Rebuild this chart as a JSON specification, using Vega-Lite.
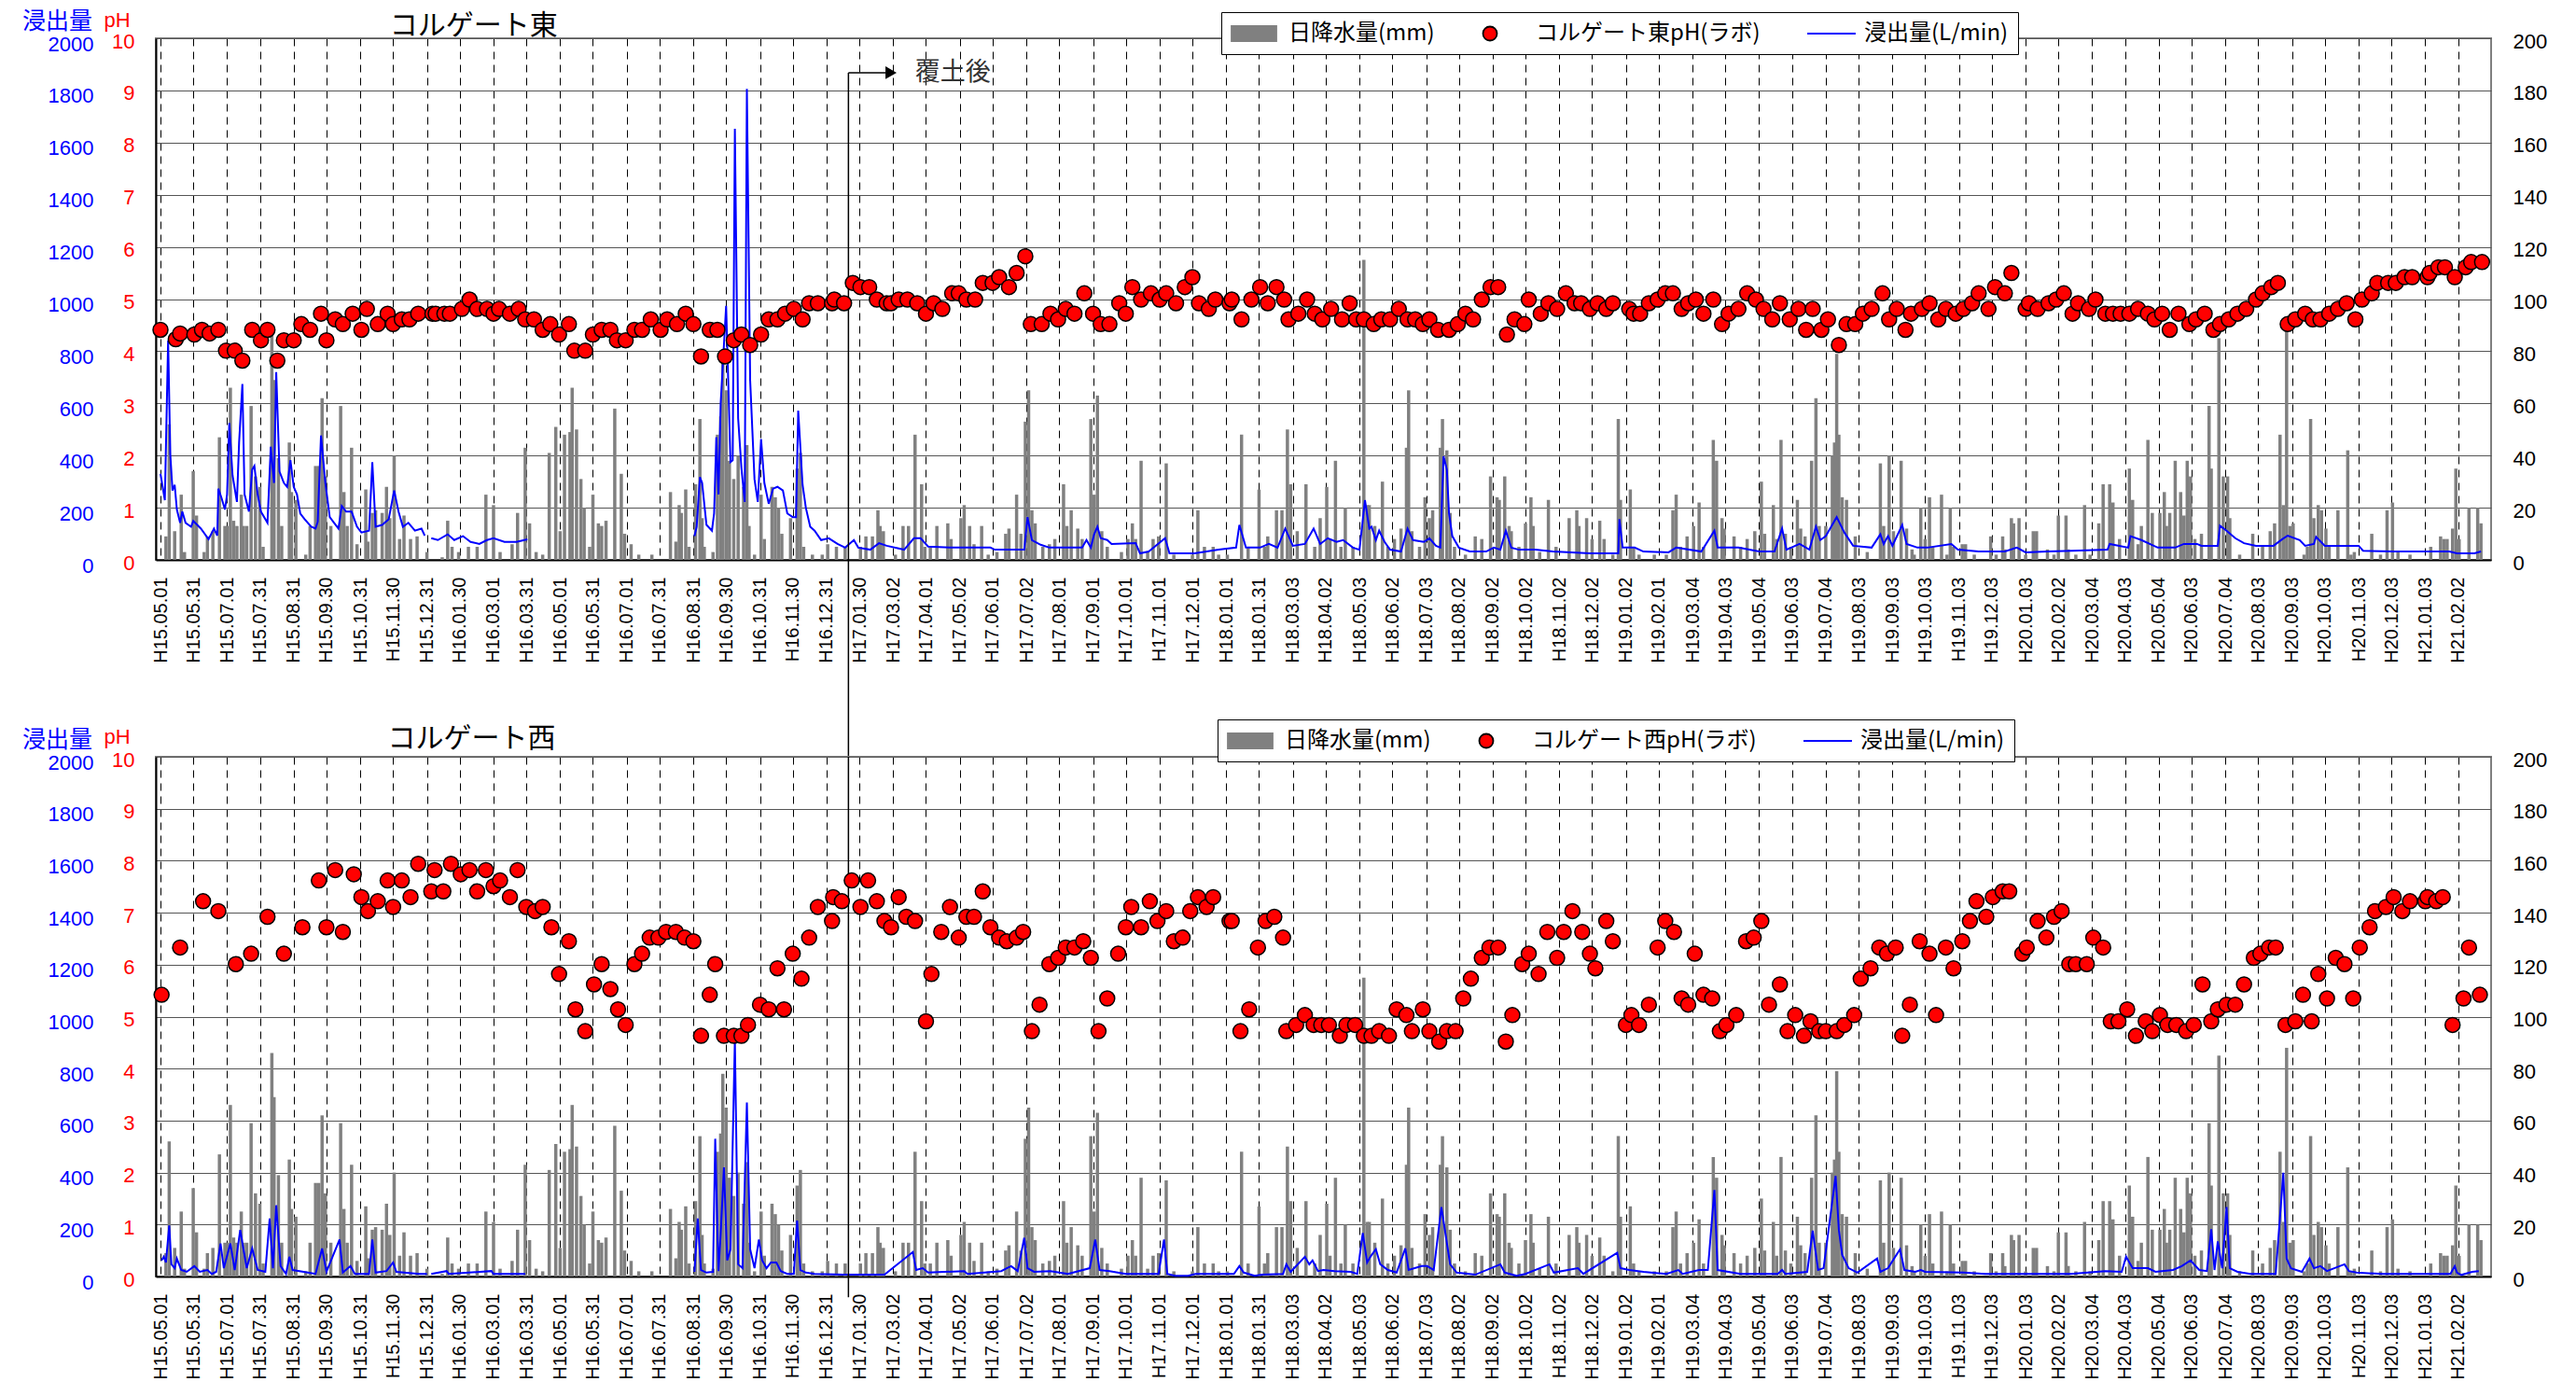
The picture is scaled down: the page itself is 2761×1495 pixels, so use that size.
{
"$schema": "https://vega.github.io/schema/vega-lite/v6.json",
"background": "white",
"padding": {"left": 22, "top": 9, "right": 10, "bottom": 2},
"bounds": "flush",
"spacing": 211,
"config": {
  "font": "Noto Sans CJK JP",
  "view": {"stroke": "#808080", "strokeWidth": 2},
  "axis": {"labelFont": "Liberation Sans", "labelFontSize": 22, "titleFont": "Noto Sans CJK JP", "labelOverlap": false},
  "axisX": {"labelOverlap": false, "labelAngle": 270, "labelFontSize": 20, "labelBound": false, "labelFlush": false}
},
"datasets": {
"rain": [{"day":5,"mm":9},{"day":8,"mm":52},{"day":13,"mm":11},{"day":19,"mm":25},{"day":22,"mm":3},{"day":30,"mm":34},{"day":33,"mm":17},{"day":40,"mm":3},{"day":43,"mm":9},{"day":48,"mm":11},{"day":54,"mm":47},{"day":59,"mm":13},{"day":61,"mm":13},{"day":64,"mm":66},{"day":67,"mm":15},{"day":70,"mm":13},{"day":74,"mm":25},{"day":76,"mm":13},{"day":79,"mm":13},{"day":83,"mm":59},{"day":87,"mm":32},{"day":91,"mm":28},{"day":94,"mm":5},{"day":102,"mm":86},{"day":104,"mm":69},{"day":108,"mm":39},{"day":111,"mm":13},{"day":118,"mm":45},{"day":120,"mm":26},{"day":124,"mm":23},{"day":133,"mm":2},{"day":137,"mm":13},{"day":142,"mm":36},{"day":145,"mm":36},{"day":148,"mm":62},{"day":151,"mm":32},{"day":156,"mm":13},{"day":165,"mm":59},{"day":168,"mm":26},{"day":171,"mm":13},{"day":175,"mm":43},{"day":180,"mm":6},{"day":188,"mm":27},{"day":190,"mm":7},{"day":194,"mm":18},{"day":197,"mm":19},{"day":203,"mm":18},{"day":207,"mm":28},{"day":210,"mm":16},{"day":214,"mm":40},{"day":219,"mm":8},{"day":223,"mm":17},{"day":229,"mm":8},{"day":235,"mm":9},{"day":244,"mm":3},{"day":258,"mm":1},{"day":263,"mm":15},{"day":267,"mm":5},{"day":273,"mm":3},{"day":282,"mm":5},{"day":290,"mm":5},{"day":298,"mm":25},{"day":305,"mm":21},{"day":311,"mm":3},{"day":322,"mm":6},{"day":327,"mm":18},{"day":334,"mm":43},{"day":338,"mm":14},{"day":344,"mm":3},{"day":350,"mm":2},{"day":356,"mm":41},{"day":362,"mm":51},{"day":366,"mm":11},{"day":370,"mm":48},{"day":375,"mm":49},{"day":377,"mm":66},{"day":381,"mm":50},{"day":385,"mm":31},{"day":388,"mm":20},{"day":393,"mm":5},{"day":396,"mm":25},{"day":401,"mm":14},{"day":404,"mm":13},{"day":408,"mm":15},{"day":416,"mm":58},{"day":422,"mm":33},{"day":425,"mm":10},{"day":431,"mm":6},{"day":438,"mm":2},{"day":450,"mm":2},
{"day":467,"mm":26},{"day":472,"mm":7},{"day":475,"mm":21},{"day":477,"mm":18},{"day":481,"mm":27},{"day":484,"mm":5},{"day":490,"mm":29},{"day":494,"mm":54},{"day":496,"mm":16},{"day":498,"mm":5},{"day":506,"mm":3},{"day":510,"mm":48},{"day":513,"mm":55},{"day":515,"mm":78},{"day":518,"mm":65},{"day":521,"mm":38},{"day":525,"mm":31},{"day":529,"mm":40},{"day":534,"mm":28},{"day":537,"mm":44},{"day":539,"mm":13},{"day":544,"mm":2},{"day":550,"mm":25},{"day":553,"mm":8},{"day":560,"mm":28},{"day":563,"mm":24},{"day":566,"mm":20},{"day":569,"mm":10},{"day":577,"mm":16},{"day":583,"mm":35},{"day":586,"mm":41},{"day":589,"mm":5},{"day":597,"mm":2},{"day":606,"mm":2},{"day":611,"mm":6},{"day":619,"mm":5},{"day":627,"mm":5},{"day":641,"mm":5},{"day":646,"mm":9},{"day":652,"mm":9},{"day":657,"mm":19},{"day":659,"mm":13},{"day":662,"mm":11},{"day":673,"mm":2},{"day":680,"mm":13},{"day":685,"mm":13},{"day":691,"mm":48},{"day":697,"mm":29},{"day":700,"mm":5},{"day":705,"mm":5},{"day":711,"mm":13},{"day":721,"mm":14},{"day":724,"mm":8},{"day":733,"mm":16},{"day":736,"mm":21},{"day":741,"mm":13},{"day":745,"mm":6},{"day":752,"mm":13},{"day":758,"mm":2},{"day":766,"mm":3},{"day":774,"mm":10},{"day":777,"mm":12},{"day":784,"mm":25},{"day":788,"mm":10},{"day":792,"mm":53},{"day":795,"mm":65},{"day":798,"mm":19},{"day":801,"mm":14},{"day":808,"mm":5},{"day":814,"mm":6},{"day":819,"mm":8},{"day":827,"mm":29},{"day":830,"mm":13},{"day":834,"mm":19},{"day":840,"mm":12},{"day":844,"mm":8},{"day":852,"mm":54},{"day":855,"mm":25},{"day":858,"mm":63},{"day":862,"mm":11},{"day":867,"mm":5},{"day":880,"mm":3},{"day":886,"mm":8},{"day":890,"mm":14},{"day":893,"mm":8},{"day":898,"mm":38},{"day":904,"mm":3},{"day":909,"mm":8},{"day":914,"mm":9},{"day":921,"mm":37},{"day":928,"mm":2},{"day":945,"mm":2},{"day":950,"mm":19},{"day":956,"mm":5},{"day":964,"mm":5},{"day":969,"mm":2},{"day":977,"mm":2},{"day":990,"mm":48},{"day":996,"mm":5},{"day":1006,"mm":27},{"day":1011,"mm":5},{"day":1014,"mm":9},{"day":1022,"mm":19},{"day":1027,"mm":19},{"day":1032,"mm":50},
{"day":1035,"mm":29},{"day":1041,"mm":11},{"day":1049,"mm":29},{"day":1057,"mm":5},{"day":1062,"mm":16},{"day":1068,"mm":28},{"day":1071,"mm":8},{"day":1076,"mm":38},{"day":1081,"mm":5},{"day":1085,"mm":20},{"day":1092,"mm":5},{"day":1102,"mm":115},{"day":1105,"mm":21},{"day":1107,"mm":21},{"day":1112,"mm":13},{"day":1119,"mm":30},{"day":1124,"mm":5},{"day":1130,"mm":8},{"day":1136,"mm":12},{"day":1141,"mm":43},{"day":1143,"mm":65},{"day":1146,"mm":11},{"day":1153,"mm":5},{"day":1158,"mm":24},{"day":1162,"mm":16},{"day":1165,"mm":19},{"day":1172,"mm":43},{"day":1174,"mm":54},{"day":1178,"mm":42},{"day":1181,"mm":18},{"day":1185,"mm":5},{"day":1195,"mm":2},{"day":1204,"mm":9},{"day":1210,"mm":8},{"day":1218,"mm":32},{"day":1224,"mm":24},{"day":1226,"mm":23},{"day":1231,"mm":32},{"day":1235,"mm":13},{"day":1237,"mm":11},{"day":1244,"mm":5},{"day":1250,"mm":14},{"day":1255,"mm":24},{"day":1257,"mm":13},{"day":1263,"mm":3},{"day":1271,"mm":23},{"day":1278,"mm":5},{"day":1290,"mm":16},{"day":1297,"mm":19},{"day":1299,"mm":13},{"day":1306,"mm":16},{"day":1311,"mm":8},{"day":1318,"mm":15},{"day":1322,"mm":8},{"day":1330,"mm":2},{"day":1335,"mm":54},{"day":1337,"mm":23},{"day":1346,"mm":27},{"day":1349,"mm":5},{"day":1354,"mm":2},{"day":1368,"mm":2},{"day":1379,"mm":2},{"day":1385,"mm":19},{"day":1388,"mm":25},{"day":1392,"mm":5},{"day":1398,"mm":9},{"day":1404,"mm":13},{"day":1409,"mm":22},{"day":1413,"mm":5},{"day":1422,"mm":46},{"day":1425,"mm":38},{"day":1430,"mm":16},{"day":1432,"mm":12},{"day":1441,"mm":9},{"day":1447,"mm":5},{"day":1453,"mm":8},{"day":1460,"mm":11},{"day":1466,"mm":30},{"day":1469,"mm":10},{"day":1477,"mm":21},{"day":1480,"mm":8},{"day":1484,"mm":46},{"day":1488,"mm":10},{"day":1493,"mm":5},{"day":1499,"mm":23},{"day":1502,"mm":12},{"day":1506,"mm":9},{"day":1512,"mm":38},{"day":1516,"mm":62},{"day":1519,"mm":13},{"day":1525,"mm":13},{"day":1531,"mm":40},{"day":1533,"mm":45},{"day":1535,"mm":79},{"day":1537,"mm":48},{"day":1540,"mm":24},{"day":1544,"mm":23},{"day":1552,"mm":9},{"day":1563,"mm":3},{"day":1575,"mm":37},{"day":1578,"mm":13},{"day":1583,"mm":40},{"day":1587,"mm":11},{"day":1594,"mm":38},{"day":1599,"mm":12},{"day":1604,"mm":4},
{"day":1606,"mm":2},{"day":1612,"mm":20},{"day":1616,"mm":8},{"day":1620,"mm":24},{"day":1623,"mm":5},{"day":1631,"mm":25},{"day":1636,"mm":2},{"day":1639,"mm":20},{"day":1642,"mm":5},{"day":1650,"mm":6},{"day":1653,"mm":6},{"day":1661,"mm":2},{"day":1676,"mm":9},{"day":1681,"mm":2},{"day":1687,"mm":9},{"day":1689,"mm":4},{"day":1695,"mm":16},{"day":1697,"mm":14},{"day":1702,"mm":16},{"day":1708,"mm":2},{"day":1715,"mm":11},{"day":1718,"mm":11},{"day":1728,"mm":4},{"day":1734,"mm":2},{"day":1738,"mm":17},{"day":1745,"mm":17},{"day":1747,"mm":4},{"day":1754,"mm":2},{"day":1762,"mm":21},{"day":1767,"mm":2},{"day":1775,"mm":14},{"day":1779,"mm":29},{"day":1785,"mm":29},{"day":1788,"mm":22},{"day":1794,"mm":8},{"day":1803,"mm":35},{"day":1806,"mm":23},{"day":1811,"mm":6},{"day":1814,"mm":13},{"day":1820,"mm":46},{"day":1824,"mm":18},{"day":1831,"mm":18},{"day":1835,"mm":26},{"day":1837,"mm":13},{"day":1840,"mm":18},{"day":1845,"mm":38},{"day":1850,"mm":26},{"day":1853,"mm":17},{"day":1856,"mm":38},{"day":1859,"mm":32},{"day":1863,"mm":8},{"day":1869,"mm":10},{"day":1876,"mm":59},{"day":1878,"mm":35},{"day":1885,"mm":85},{"day":1889,"mm":32},{"day":1893,"mm":32},{"day":1895,"mm":16},{"day":1904,"mm":2},{"day":1916,"mm":10},{"day":1925,"mm":5},{"day":1932,"mm":11},{"day":1936,"mm":14},{"day":1941,"mm":48},{"day":1944,"mm":21},{"day":1947,"mm":88},{"day":1950,"mm":13},{"day":1953,"mm":14},{"day":1963,"mm":2},{"day":1966,"mm":5},{"day":1969,"mm":54},{"day":1972,"mm":16},{"day":1976,"mm":21},{"day":1979,"mm":19},{"day":1983,"mm":12},{"day":1986,"mm":5},{"day":1994,"mm":19},{"day":2003,"mm":42},{"day":2006,"mm":2},{"day":2009,"mm":3},{"day":2025,"mm":10},{"day":2033,"mm":2},{"day":2039,"mm":19},{"day":2044,"mm":22},{"day":2049,"mm":3},{"day":2060,"mm":2},{"day":2079,"mm":5},{"day":2088,"mm":9},{"day":2091,"mm":8},{"day":2094,"mm":8},{"day":2099,"mm":12},{"day":2102,"mm":35},{"day":2105,"mm":8},{"day":2114,"mm":20},{"day":2122,"mm":20},{"day":2125,"mm":14}],
"flowE": [{"day":0,"flow":330},{"day":4,"flow":229},{"day":7,"flow":842},{"day":9,"flow":404},{"day":11,"flow":266},{"day":13,"flow":288},{"day":15,"flow":193},{"day":18,"flow":142},{"day":20,"flow":185},{"day":23,"flow":142},{"day":28,"flow":127},{"day":30,"flow":149},{"day":37,"flow":120},{"day":44,"flow":79},{"day":49,"flow":120},{"day":52,"flow":93},{"day":53,"flow":273},{"day":56,"flow":236},{"day":59,"flow":193},{"day":61,"flow":251},{"day":63,"flow":525},{"day":66,"flow":324},{"day":70,"flow":222},{"day":72,"flow":450},{"day":75,"flow":674},{"day":77,"flow":251},{"day":81,"flow":185},{"day":84,"flow":346},{"day":86,"flow":360},{"day":89,"flow":251},{"day":92,"flow":185},{"day":98,"flow":142},{"day":101,"flow":434},{"day":104,"flow":295},{"day":106,"flow":720},{"day":109,"flow":339},{"day":113,"flow":295},{"day":116,"flow":280},{"day":119,"flow":382},{"day":122,"flow":280},{"day":125,"flow":251},{"day":128,"flow":178},{"day":132,"flow":156},{"day":138,"flow":127},{"day":142,"flow":120},{"day":144,"flow":146},{"day":147,"flow":477},{"day":151,"flow":295},{"day":155,"flow":164},{"day":159,"flow":142},{"day":163,"flow":120},{"day":166,"flow":207},{"day":170,"flow":185},{"day":175,"flow":185},{"day":180,"flow":127},{"day":184,"flow":105},{"day":191,"flow":112},{"day":194,"flow":375},{"day":197,"flow":127},{"day":203,"flow":134},{"day":209,"flow":156},{"day":214,"flow":266},{"day":218,"flow":185},{"day":222,"flow":127},{"day":227,"flow":142},{"day":233,"flow":112},{"day":239,"flow":120},{"day":242,"flow":93},{"day":245,"flow":null},{"day":248,"flow":83},{"day":254,"flow":76},{"day":263,"flow":98},{"day":269,"flow":76},{"day":277,"flow":91},{"day":284,"flow":69},{"day":292,"flow":61},{"day":299,"flow":76},{"day":305,"flow":83},{"day":315,"flow":69},{"day":326,"flow":69},{"day":336,"flow":79},{"day":340,"flow":null},{"day":489,"flow":91},{"day":491,"flow":127},{"day":494,"flow":317},{"day":496,"flow":295},{"day":500,"flow":134},{"day":505,"flow":112},{"day":507,"flow":178},{"day":509,"flow":470},{"day":511,"flow":251},{"day":513,"flow":600},{"day":518,"flow":974},{"day":522,"flow":375},{"day":524,"flow":382},{"day":526,"flow":1653},{"day":529,"flow":543},{"day":532,"flow":353},{"day":535,"flow":222},{"day":537,"flow":1806},{"day":540,"flow":689},{"day":544,"flow":309},{"day":547,"flow":222},{"day":550,"flow":463},{"day":553,"flow":295},{"day":557,"flow":215},{"day":561,"flow":273},{"day":565,"flow":280},{"day":570,"flow":266},{"day":574,"flow":178},{"day":579,"flow":164},{"day":582,"flow":164},{"day":584,"flow":572},{"day":588,"flow":288},{"day":591,"flow":200},{"day":595,"flow":127},{"day":599,"flow":112},{"day":605,"flow":76},{"day":612,"flow":83},{"day":620,"flow":61},{"day":627,"flow":47},{"day":635,"flow":76},{"day":639,"flow":47},{"day":650,"flow":39},{"day":658,"flow":64},{"day":665,"flow":54},{"day":681,"flow":39},{"day":690,"flow":83},{"day":696,"flow":83},{"day":703,"flow":51},{"day":726,"flow":47},{"day":760,"flow":47},{"day":764,"flow":39},{"day":791,"flow":39},{"day":794,"flow":164},{"day":798,"flow":76},{"day":806,"flow":58},{"day":814,"flow":47},{"day":844,"flow":47},{"day":848,"flow":76},{"day":852,"flow":47},{"day":855,"flow":98},{"day":858,"flow":127},{"day":861,"flow":83},{"day":867,"flow":76},{"day":871,"flow":61},{"day":893,"flow":64},{"day":897,"flow":25},{"day":905,"flow":32},{"day":920,"flow":83},{"day":924,"flow":25},{"day":947,"flow":25},{"day":969,"flow":39},{"day":985,"flow":47},{"day":988,"flow":134},{"day":994,"flow":47},{"day":1007,"flow":47},{"day":1015,"flow":61},{"day":1023,"flow":47},{"day":1030,"flow":120},{"day":1037,"flow":54},{"day":1048,"flow":61},{"day":1056,"flow":120},{"day":1062,"flow":61},{"day":1069,"flow":83},{"day":1077,"flow":69},{"day":1083,"flow":76},{"day":1092,"flow":47},{"day":1098,"flow":39},{"day":1103,"flow":229},{"day":1107,"flow":120},{"day":1109,"flow":127},{"day":1113,"flow":76},{"day":1116,"flow":112},{"day":1121,"flow":69},{"day":1126,"flow":39},{"day":1136,"flow":32},{"day":1142,"flow":120},{"day":1147,"flow":76},{"day":1157,"flow":69},{"day":1162,"flow":83},{"day":1168,"flow":54},{"day":1172,"flow":47},{"day":1175,"flow":397},{"day":1178,"flow":346},{"day":1180,"flow":178},{"day":1183,"flow":91},{"day":1189,"flow":47},{"day":1199,"flow":32},{"day":1214,"flow":32},{"day":1221,"flow":47},{"day":1227,"flow":39},{"day":1232,"flow":112},{"day":1237,"flow":47},{"day":1244,"flow":39},{"day":1259,"flow":39},{"day":1275,"flow":32},{"day":1309,"flow":25},{"day":1335,"flow":25},{"day":1336,"flow":156},{"day":1339,"flow":47},{"day":1350,"flow":47},{"day":1358,"flow":32},{"day":1381,"flow":29},{"day":1388,"flow":47},{"day":1411,"flow":32},{"day":1423,"flow":112},{"day":1426,"flow":47},{"day":1445,"flow":47},{"day":1464,"flow":32},{"day":1478,"flow":32},{"day":1485,"flow":120},{"day":1489,"flow":39},{"day":1501,"flow":61},{"day":1510,"flow":39},{"day":1516,"flow":127},{"day":1520,"flow":76},{"day":1525,"flow":91},{"day":1535,"flow":164},{"day":1542,"flow":105},{"day":1550,"flow":54},{"day":1567,"flow":47},{"day":1575,"flow":98},{"day":1578,"flow":61},{"day":1582,"flow":91},{"day":1586,"flow":54},{"day":1595,"flow":134},{"day":1599,"flow":61},{"day":1609,"flow":47},{"day":1618,"flow":47},{"day":1640,"flow":61},{"day":1646,"flow":39},{"day":1665,"flow":32},{"day":1689,"flow":32},{"day":1700,"flow":47},{"day":1708,"flow":29},{"day":1728,"flow":32},{"day":1751,"flow":35},{"day":1783,"flow":39},{"day":1785,"flow":61},{"day":1802,"flow":47},{"day":1804,"flow":91},{"day":1814,"flow":76},{"day":1829,"flow":47},{"day":1845,"flow":47},{"day":1853,"flow":61},{"day":1865,"flow":61},{"day":1869,"flow":54},{"day":1884,"flow":54},{"day":1886,"flow":131},{"day":1892,"flow":112},{"day":1900,"flow":83},{"day":1908,"flow":64},{"day":1919,"flow":54},{"day":1935,"flow":54},{"day":1943,"flow":79},{"day":1948,"flow":93},{"day":1959,"flow":76},{"day":1964,"flow":54},{"day":1972,"flow":61},{"day":1974,"flow":88},{"day":1982,"flow":54},{"day":2013,"flow":54},{"day":2017,"flow":35},{"day":2045,"flow":32},{"day":2096,"flow":32},{"day":2103,"flow":25},{"day":2119,"flow":25},{"day":2125,"flow":32}],
"flowW": [{"day":1,"flow":62},{"day":3,"flow":76},{"day":5,"flow":54},{"day":8,"flow":196},{"day":10,"flow":47},{"day":13,"flow":32},{"day":15,"flow":69},{"day":19,"flow":25},{"day":24,"flow":18},{"day":31,"flow":40},{"day":36,"flow":18},{"day":43,"flow":25},{"day":47,"flow":10},{"day":51,"flow":18},{"day":55,"flow":127},{"day":58,"flow":32},{"day":64,"flow":127},{"day":68,"flow":25},{"day":73,"flow":179},{"day":76,"flow":105},{"day":79,"flow":32},{"day":84,"flow":108},{"day":89,"flow":25},{"day":96,"flow":18},{"day":100,"flow":223},{"day":103,"flow":32},{"day":106,"flow":274},{"day":110,"flow":40},{"day":115,"flow":10},{"day":118,"flow":76},{"day":121,"flow":25},{"day":131,"flow":18},{"day":142,"flow":10},{"day":148,"flow":108},{"day":152,"flow":18},{"day":164,"flow":142},{"day":167,"flow":15},{"day":174,"flow":40},{"day":178,"flow":10},{"day":191,"flow":10},{"day":194,"flow":142},{"day":197,"flow":15},{"day":207,"flow":21},{"day":213,"flow":54},{"day":216,"flow":18},{"day":237,"flow":10},{"day":244,"flow":10},{"day":246,"flow":null},{"day":248,"flow":10},{"day":262,"flow":21},{"day":264,"flow":10},{"day":303,"flow":21},{"day":305,"flow":10},{"day":334,"flow":10},{"day":340,"flow":null},{"day":489,"flow":18},{"day":492,"flow":223},{"day":495,"flow":25},{"day":500,"flow":15},{"day":506,"flow":18},{"day":508,"flow":530},{"day":511,"flow":21},{"day":513,"flow":164},{"day":516,"flow":420},{"day":519,"flow":62},{"day":522,"flow":105},{"day":526,"flow":911},{"day":529,"flow":47},{"day":533,"flow":32},{"day":537,"flow":670},{"day":540,"flow":105},{"day":544,"flow":32},{"day":548,"flow":142},{"day":551,"flow":62},{"day":555,"flow":32},{"day":559,"flow":54},{"day":564,"flow":54},{"day":568,"flow":21},{"day":574,"flow":10},{"day":580,"flow":10},{"day":583,"flow":215},{"day":586,"flow":25},{"day":591,"flow":15},{"day":599,"flow":10},{"day":625,"flow":7},{"day":663,"flow":7},{"day":689,"flow":94},{"day":692,"flow":25},{"day":698,"flow":32},{"day":703,"flow":15},{"day":736,"flow":21},{"day":739,"flow":10},{"day":770,"flow":21},{"day":775,"flow":32},{"day":779,"flow":40},{"day":785,"flow":21},{"day":791,"flow":149},{"day":794,"flow":32},{"day":800,"flow":18},{"day":815,"flow":21},{"day":831,"flow":10},{"day":851,"flow":32},{"day":856,"flow":142},{"day":860,"flow":25},{"day":869,"flow":21},{"day":884,"flow":10},{"day":914,"flow":10},{"day":919,"flow":142},{"day":922,"flow":10},{"day":929,"flow":3},{"day":941,"flow":3},{"day":948,"flow":10},{"day":983,"flow":10},{"day":988,"flow":40},{"day":992,"flow":15},{"day":1002,"flow":3},{"day":1009,"flow":7},{"day":1028,"flow":10},{"day":1031,"flow":47},{"day":1035,"flow":18},{"day":1048,"flow":76},{"day":1052,"flow":47},{"day":1055,"flow":62},{"day":1060,"flow":21},{"day":1065,"flow":25},{"day":1075,"flow":21},{"day":1090,"flow":18},{"day":1096,"flow":10},{"day":1101,"flow":167},{"day":1105,"flow":54},{"day":1108,"flow":76},{"day":1113,"flow":105},{"day":1117,"flow":47},{"day":1124,"flow":25},{"day":1132,"flow":15},{"day":1140,"flow":108},{"day":1143,"flow":25},{"day":1155,"flow":40},{"day":1160,"flow":40},{"day":1166,"flow":25},{"day":1173,"flow":267},{"day":1177,"flow":157},{"day":1181,"flow":47},{"day":1187,"flow":15},{"day":1204,"flow":7},{"day":1227,"flow":47},{"day":1231,"flow":15},{"day":1242,"flow":3},{"day":1250,"flow":10},{"day":1272,"flow":47},{"day":1276,"flow":15},{"day":1298,"flow":32},{"day":1303,"flow":10},{"day":1334,"flow":91},{"day":1337,"flow":32},{"day":1345,"flow":25},{"day":1358,"flow":18},{"day":1379,"flow":10},{"day":1390,"flow":25},{"day":1394,"flow":10},{"day":1409,"flow":25},{"day":1417,"flow":25},{"day":1423,"flow":333},{"day":1426,"flow":25},{"day":1447,"flow":10},{"day":1481,"flow":10},{"day":1485,"flow":25},{"day":1488,"flow":10},{"day":1508,"flow":18},{"day":1513,"flow":176},{"day":1518,"flow":25},{"day":1523,"flow":32},{"day":1534,"flow":387},{"day":1537,"flow":179},{"day":1540,"flow":84},{"day":1546,"flow":32},{"day":1554,"flow":15},{"day":1572,"flow":69},{"day":1575,"flow":18},{"day":1582,"flow":32},{"day":1593,"flow":105},{"day":1597,"flow":25},{"day":1607,"flow":18},{"day":1612,"flow":25},{"day":1616,"flow":18},{"day":1651,"flow":15},{"day":1671,"flow":10},{"day":1749,"flow":10},{"day":1781,"flow":21},{"day":1796,"flow":18},{"day":1800,"flow":76},{"day":1806,"flow":32},{"day":1820,"flow":32},{"day":1827,"flow":18},{"day":1843,"flow":25},{"day":1851,"flow":40},{"day":1859,"flow":62},{"day":1867,"flow":25},{"day":1874,"flow":21},{"day":1878,"flow":182},{"day":1881,"flow":25},{"day":1884,"flow":135},{"day":1888,"flow":32},{"day":1892,"flow":267},{"day":1895,"flow":32},{"day":1902,"flow":18},{"day":1914,"flow":10},{"day":1937,"flow":10},{"day":1944,"flow":399},{"day":1947,"flow":69},{"day":1951,"flow":32},{"day":1961,"flow":18},{"day":1968,"flow":69},{"day":1972,"flow":32},{"day":1978,"flow":40},{"day":1984,"flow":21},{"day":2000,"flow":47},{"day":2004,"flow":21},{"day":2011,"flow":15},{"day":2035,"flow":10},{"day":2097,"flow":10},{"day":2101,"flow":40},{"day":2103,"flow":15},{"day":2107,"flow":6},{"day":2117,"flow":18},{"day":2123,"flow":21}],
"phE": [{"day":0,"pH":4.41},{"day":14,"pH":4.23},{"day":18,"pH":4.34},{"day":31,"pH":4.32},{"day":38,"pH":4.41},{"day":45,"pH":4.34},{"day":53,"pH":4.41},{"day":60,"pH":4.01},{"day":68,"pH":4.01},{"day":75,"pH":3.82},{"day":84,"pH":4.41},{"day":92,"pH":4.21},{"day":98,"pH":4.41},{"day":107,"pH":3.82},{"day":113,"pH":4.21},{"day":122,"pH":4.21},{"day":129,"pH":4.52},{"day":137,"pH":4.41},{"day":147,"pH":4.72},{"day":152,"pH":4.21},{"day":160,"pH":4.61},{"day":167,"pH":4.52},{"day":176,"pH":4.72},{"day":184,"pH":4.41},{"day":189,"pH":4.81},{"day":199,"pH":4.52},{"day":208,"pH":4.72},{"day":213,"pH":4.52},{"day":221,"pH":4.61},{"day":228,"pH":4.61},{"day":236,"pH":4.72},{"day":249,"pH":4.72},{"day":252,"pH":4.72},{"day":260,"pH":4.72},{"day":265,"pH":4.72},{"day":276,"pH":4.81},{"day":283,"pH":4.99},{"day":290,"pH":4.81},{"day":299,"pH":4.81},{"day":305,"pH":4.72},{"day":310,"pH":4.81},{"day":320,"pH":4.72},{"day":328,"pH":4.81},{"day":334,"pH":4.61},{"day":342,"pH":4.61},{"day":350,"pH":4.41},{"day":357,"pH":4.52},{"day":365,"pH":4.32},{"day":374,"pH":4.52},{"day":379,"pH":4.01},{"day":389,"pH":4.01},{"day":396,"pH":4.32},{"day":404,"pH":4.41},{"day":412,"pH":4.41},{"day":418,"pH":4.21},{"day":426,"pH":4.21},{"day":434,"pH":4.41},{"day":441,"pH":4.41},{"day":449,"pH":4.61},{"day":458,"pH":4.41},{"day":464,"pH":4.61},{"day":473,"pH":4.52},{"day":481,"pH":4.72},{"day":488,"pH":4.52},{"day":495,"pH":3.9},{"day":503,"pH":4.41},{"day":510,"pH":4.41},{"day":517,"pH":3.9},{"day":525,"pH":4.21},{"day":532,"pH":4.32},{"day":540,"pH":4.12},{"day":550,"pH":4.32},{"day":557,"pH":4.61},{"day":565,"pH":4.61},{"day":572,"pH":4.72},{"day":580,"pH":4.81},{"day":588,"pH":4.61},{"day":594,"pH":4.92},{"day":602,"pH":4.92},{"day":615,"pH":4.92},{"day":617,"pH":4.99},{"day":626,"pH":4.92},{"day":634,"pH":5.31},{"day":641,"pH":5.23},{"day":649,"pH":5.23},{"day":656,"pH":4.99},{"day":665,"pH":4.92},{"day":669,"pH":4.92},{"day":676,"pH":4.99},{"day":684,"pH":4.99},{"day":693,"pH":4.92},{"day":701,"pH":4.72},{"day":708,"pH":4.92},{"day":716,"pH":4.81},{"day":725,"pH":5.11},{"day":731,"pH":5.11},{"day":738,"pH":4.99},{"day":746,"pH":4.99},{"day":753,"pH":5.31},{"day":762,"pH":5.31},{"day":768,"pH":5.42},{"day":777,"pH":5.23},{"day":784,"pH":5.5},{"day":792,"pH":5.82},{"day":797,"pH":4.52},{"day":807,"pH":4.52},{"day":815,"pH":4.72},{"day":822,"pH":4.61},{"day":829,"pH":4.81},{"day":837,"pH":4.72},{"day":846,"pH":5.11},{"day":854,"pH":4.72},{"day":861,"pH":4.52},{"day":869,"pH":4.52},{"day":878,"pH":4.92},{"day":884,"pH":4.72},{"day":890,"pH":5.23},{"day":898,"pH":4.99},{"day":907,"pH":5.11},{"day":915,"pH":4.99},{"day":921,"pH":5.11},{"day":930,"pH":4.92},{"day":938,"pH":5.23},{"day":945,"pH":5.42},{"day":951,"pH":4.92},{"day":960,"pH":4.81},{"day":966,"pH":4.99},{"day":979,"pH":4.92},{"day":981,"pH":4.99},{"day":990,"pH":4.61},{"day":999,"pH":4.99},{"day":1007,"pH":5.23},{"day":1014,"pH":4.92},{"day":1022,"pH":5.23},{"day":1029,"pH":4.99},{"day":1033,"pH":4.61},{"day":1042,"pH":4.72},{"day":1050,"pH":4.99},{"day":1057,"pH":4.72},{"day":1064,"pH":4.61},{"day":1072,"pH":4.81},{"day":1082,"pH":4.61},{"day":1089,"pH":4.92},{"day":1095,"pH":4.61},{"day":1102,"pH":4.61},{"day":1111,"pH":4.52},{"day":1118,"pH":4.61},{"day":1126,"pH":4.61},{"day":1134,"pH":4.81},{"day":1142,"pH":4.61},{"day":1149,"pH":4.61},{"day":1156,"pH":4.52},{"day":1162,"pH":4.61},{"day":1170,"pH":4.41},{"day":1180,"pH":4.41},{"day":1188,"pH":4.52},{"day":1195,"pH":4.72},{"day":1202,"pH":4.61},{"day":1210,"pH":4.99},{"day":1218,"pH":5.23},{"day":1225,"pH":5.23},{"day":1233,"pH":4.32},{"day":1240,"pH":4.61},{"day":1249,"pH":4.52},{"day":1253,"pH":4.99},{"day":1264,"pH":4.72},{"day":1271,"pH":4.92},{"day":1279,"pH":4.81},{"day":1287,"pH":5.11},{"day":1295,"pH":4.92},{"day":1301,"pH":4.92},{"day":1309,"pH":4.81},{"day":1316,"pH":4.92},{"day":1324,"pH":4.81},{"day":1330,"pH":4.92},{"day":1345,"pH":4.81},{"day":1349,"pH":4.72},{"day":1355,"pH":4.72},{"day":1363,"pH":4.92},{"day":1371,"pH":4.99},{"day":1378,"pH":5.11},{"day":1385,"pH":5.11},{"day":1393,"pH":4.81},{"day":1399,"pH":4.92},{"day":1406,"pH":4.99},{"day":1413,"pH":4.72},{"day":1422,"pH":4.99},{"day":1430,"pH":4.52},{"day":1436,"pH":4.72},{"day":1445,"pH":4.81},{"day":1453,"pH":5.11},{"day":1461,"pH":4.99},{"day":1468,"pH":4.81},{"day":1476,"pH":4.61},{"day":1483,"pH":4.92},{"day":1492,"pH":4.61},{"day":1500,"pH":4.81},{"day":1507,"pH":4.41},{"day":1513,"pH":4.81},{"day":1521,"pH":4.41},{"day":1527,"pH":4.61},{"day":1537,"pH":4.12},{"day":1544,"pH":4.52},{"day":1552,"pH":4.52},{"day":1559,"pH":4.72},{"day":1567,"pH":4.81},{"day":1577,"pH":5.11},{"day":1583,"pH":4.61},{"day":1590,"pH":4.81},{"day":1598,"pH":4.41},{"day":1603,"pH":4.72},{"day":1613,"pH":4.81},{"day":1620,"pH":4.92},{"day":1628,"pH":4.61},{"day":1635,"pH":4.81},{"day":1644,"pH":4.72},{"day":1651,"pH":4.81},{"day":1659,"pH":4.92},{"day":1665,"pH":5.11},{"day":1674,"pH":4.81},{"day":1680,"pH":5.23},{"day":1689,"pH":5.11},{"day":1695,"pH":5.5},{"day":1708,"pH":4.81},{"day":1711,"pH":4.92},{"day":1719,"pH":4.81},{"day":1729,"pH":4.92},{"day":1736,"pH":4.99},{"day":1743,"pH":5.11},{"day":1751,"pH":4.72},{"day":1756,"pH":4.92},{"day":1766,"pH":4.81},{"day":1772,"pH":4.99},{"day":1781,"pH":4.72},{"day":1788,"pH":4.72},{"day":1795,"pH":4.72},{"day":1803,"pH":4.72},{"day":1811,"pH":4.81},{"day":1820,"pH":4.72},{"day":1826,"pH":4.61},{"day":1833,"pH":4.72},{"day":1840,"pH":4.41},{"day":1848,"pH":4.72},{"day":1858,"pH":4.52},{"day":1864,"pH":4.61},{"day":1872,"pH":4.72},{"day":1880,"pH":4.41},{"day":1886,"pH":4.52},{"day":1894,"pH":4.61},{"day":1902,"pH":4.72},{"day":1910,"pH":4.81},{"day":1919,"pH":4.99},{"day":1925,"pH":5.11},{"day":1933,"pH":5.23},{"day":1939,"pH":5.31},{"day":1948,"pH":4.52},{"day":1955,"pH":4.61},{"day":1964,"pH":4.72},{"day":1971,"pH":4.61},{"day":1978,"pH":4.61},{"day":1986,"pH":4.72},{"day":1994,"pH":4.81},{"day":2002,"pH":4.92},{"day":2010,"pH":4.61},{"day":2016,"pH":4.99},{"day":2025,"pH":5.11},{"day":2030,"pH":5.31},{"day":2040,"pH":5.31},{"day":2047,"pH":5.31},{"day":2055,"pH":5.42},{"day":2062,"pH":5.42},{"day":2076,"pH":5.42},{"day":2078,"pH":5.5},{"day":2086,"pH":5.61},{"day":2092,"pH":5.61},{"day":2101,"pH":5.42},{"day":2111,"pH":5.61},{"day":2116,"pH":5.71},{"day":2126,"pH":5.71}],
"phW": [{"day":1,"pH":5.42},{"day":18,"pH":6.33},{"day":39,"pH":7.22},{"day":53,"pH":7.03},{"day":69,"pH":6.01},{"day":83,"pH":6.21},{"day":98,"pH":6.92},{"day":113,"pH":6.21},{"day":130,"pH":6.72},{"day":145,"pH":7.62},{"day":152,"pH":6.72},{"day":160,"pH":7.82},{"day":167,"pH":6.63},{"day":177,"pH":7.74},{"day":184,"pH":7.3},{"day":190,"pH":7.03},{"day":199,"pH":7.22},{"day":208,"pH":7.62},{"day":213,"pH":7.11},{"day":221,"pH":7.62},{"day":229,"pH":7.3},{"day":236,"pH":7.94},{"day":248,"pH":7.41},{"day":251,"pH":7.82},{"day":259,"pH":7.41},{"day":266,"pH":7.94},{"day":275,"pH":7.74},{"day":283,"pH":7.82},{"day":290,"pH":7.41},{"day":298,"pH":7.82},{"day":305,"pH":7.51},{"day":311,"pH":7.62},{"day":320,"pH":7.3},{"day":327,"pH":7.82},{"day":335,"pH":7.11},{"day":343,"pH":7.03},{"day":350,"pH":7.11},{"day":358,"pH":6.72},{"day":365,"pH":5.82},{"day":374,"pH":6.45},{"day":380,"pH":5.14},{"day":389,"pH":4.72},{"day":397,"pH":5.62},{"day":404,"pH":6.01},{"day":412,"pH":5.53},{"day":419,"pH":5.14},{"day":426,"pH":4.84},{"day":434,"pH":6.01},{"day":441,"pH":6.21},{"day":448,"pH":6.52},{"day":456,"pH":6.52},{"day":463,"pH":6.63},{"day":472,"pH":6.63},{"day":480,"pH":6.52},{"day":488,"pH":6.45},{"day":495,"pH":4.63},{"day":503,"pH":5.42},{"day":508,"pH":6.01},{"day":516,"pH":4.63},{"day":525,"pH":4.63},{"day":532,"pH":4.63},{"day":538,"pH":4.84},{"day":549,"pH":5.23},{"day":557,"pH":5.14},{"day":565,"pH":5.93},{"day":571,"pH":5.14},{"day":579,"pH":6.21},{"day":587,"pH":5.73},{"day":594,"pH":6.52},{"day":602,"pH":7.11},{"day":615,"pH":6.84},{"day":616,"pH":7.3},{"day":624,"pH":7.22},{"day":633,"pH":7.62},{"day":641,"pH":7.11},{"day":648,"pH":7.62},{"day":656,"pH":7.22},{"day":663,"pH":6.84},{"day":669,"pH":6.72},{"day":676,"pH":7.3},{"day":683,"pH":6.92},{"day":691,"pH":6.84},{"day":701,"pH":4.91},{"day":706,"pH":5.82},{"day":715,"pH":6.63},{"day":723,"pH":7.11},{"day":731,"pH":6.52},{"day":738,"pH":6.92},{"day":745,"pH":6.92},{"day":753,"pH":7.41},{"day":760,"pH":6.72},{"day":768,"pH":6.52},{"day":775,"pH":6.45},{"day":784,"pH":6.52},{"day":790,"pH":6.63},{"day":798,"pH":4.72},{"day":805,"pH":5.23},{"day":814,"pH":6.01},{"day":822,"pH":6.13},{"day":829,"pH":6.33},{"day":837,"pH":6.33},{"day":845,"pH":6.45},{"day":852,"pH":6.13},{"day":859,"pH":4.72},{"day":867,"pH":5.35},{"day":877,"pH":6.21},{"day":884,"pH":6.72},{"day":889,"pH":7.11},{"day":898,"pH":6.72},{"day":906,"pH":7.22},{"day":913,"pH":6.84},{"day":921,"pH":7.03},{"day":928,"pH":6.45},{"day":936,"pH":6.52},{"day":943,"pH":7.03},{"day":950,"pH":7.3},{"day":958,"pH":7.11},{"day":964,"pH":7.3},{"day":979,"pH":6.84},{"day":981,"pH":6.84},{"day":989,"pH":4.72},{"day":997,"pH":5.14},{"day":1005,"pH":6.33},{"day":1012,"pH":6.84},{"day":1020,"pH":6.92},{"day":1028,"pH":6.52},{"day":1031,"pH":4.72},{"day":1040,"pH":4.84},{"day":1048,"pH":5.03},{"day":1056,"pH":4.84},{"day":1063,"pH":4.84},{"day":1070,"pH":4.84},{"day":1080,"pH":4.63},{"day":1086,"pH":4.84},{"day":1094,"pH":4.84},{"day":1102,"pH":4.63},{"day":1109,"pH":4.63},{"day":1116,"pH":4.72},{"day":1125,"pH":4.63},{"day":1132,"pH":5.14},{"day":1141,"pH":5.03},{"day":1146,"pH":4.72},{"day":1156,"pH":5.14},{"day":1162,"pH":4.72},{"day":1171,"pH":4.52},{"day":1178,"pH":4.72},{"day":1186,"pH":4.72},{"day":1193,"pH":5.35},{"day":1200,"pH":5.73},{"day":1210,"pH":6.13},{"day":1217,"pH":6.33},{"day":1225,"pH":6.33},{"day":1232,"pH":4.52},{"day":1238,"pH":5.03},{"day":1247,"pH":6.01},{"day":1253,"pH":6.21},{"day":1262,"pH":5.82},{"day":1270,"pH":6.63},{"day":1279,"pH":6.13},{"day":1285,"pH":6.63},{"day":1293,"pH":7.03},{"day":1302,"pH":6.63},{"day":1309,"pH":6.21},{"day":1314,"pH":5.93},{"day":1324,"pH":6.84},{"day":1330,"pH":6.45},{"day":1342,"pH":4.84},{"day":1347,"pH":5.03},{"day":1354,"pH":4.84},{"day":1363,"pH":5.23},{"day":1371,"pH":6.33},{"day":1378,"pH":6.84},{"day":1386,"pH":6.63},{"day":1393,"pH":5.35},{"day":1399,"pH":5.23},{"day":1405,"pH":6.21},{"day":1413,"pH":5.42},{"day":1421,"pH":5.35},{"day":1428,"pH":4.72},{"day":1434,"pH":4.84},{"day":1443,"pH":5.03},{"day":1452,"pH":6.45},{"day":1459,"pH":6.52},{"day":1466,"pH":6.84},{"day":1473,"pH":5.23},{"day":1483,"pH":5.62},{"day":1490,"pH":4.72},{"day":1497,"pH":5.03},{"day":1505,"pH":4.63},{"day":1511,"pH":4.91},{"day":1519,"pH":4.72},{"day":1525,"pH":4.72},{"day":1535,"pH":4.72},{"day":1542,"pH":4.84},{"day":1551,"pH":5.03},{"day":1557,"pH":5.73},{"day":1566,"pH":5.93},{"day":1574,"pH":6.33},{"day":1581,"pH":6.21},{"day":1589,"pH":6.33},{"day":1595,"pH":4.63},{"day":1602,"pH":5.23},{"day":1611,"pH":6.45},{"day":1620,"pH":6.21},{"day":1626,"pH":5.03},{"day":1635,"pH":6.33},{"day":1642,"pH":5.93},{"day":1650,"pH":6.45},{"day":1657,"pH":6.84},{"day":1663,"pH":7.22},{"day":1672,"pH":6.92},{"day":1678,"pH":7.3},{"day":1687,"pH":7.41},{"day":1693,"pH":7.41},{"day":1705,"pH":6.21},{"day":1709,"pH":6.33},{"day":1719,"pH":6.84},{"day":1727,"pH":6.52},{"day":1734,"pH":6.92},{"day":1741,"pH":7.03},{"day":1748,"pH":6.01},{"day":1754,"pH":6.01},{"day":1764,"pH":6.01},{"day":1770,"pH":6.52},{"day":1779,"pH":6.33},{"day":1786,"pH":4.91},{"day":1793,"pH":4.91},{"day":1801,"pH":5.14},{"day":1809,"pH":4.63},{"day":1818,"pH":4.91},{"day":1824,"pH":4.72},{"day":1831,"pH":5.03},{"day":1838,"pH":4.84},{"day":1846,"pH":4.84},{"day":1855,"pH":4.72},{"day":1862,"pH":4.84},{"day":1870,"pH":5.62},{"day":1878,"pH":4.91},{"day":1884,"pH":5.14},{"day":1892,"pH":5.23},{"day":1900,"pH":5.23},{"day":1908,"pH":5.62},{"day":1917,"pH":6.13},{"day":1923,"pH":6.21},{"day":1931,"pH":6.33},{"day":1937,"pH":6.33},{"day":1946,"pH":4.84},{"day":1955,"pH":4.91},{"day":1962,"pH":5.42},{"day":1970,"pH":4.91},{"day":1976,"pH":5.82},{"day":1984,"pH":5.35},{"day":1992,"pH":6.13},{"day":2000,"pH":6.01},{"day":2008,"pH":5.35},{"day":2014,"pH":6.33},{"day":2023,"pH":6.72},{"day":2028,"pH":7.03},{"day":2038,"pH":7.11},{"day":2045,"pH":7.3},{"day":2053,"pH":7.03},{"day":2060,"pH":7.22},{"day":2074,"pH":7.22},{"day":2076,"pH":7.3},{"day":2084,"pH":7.22},{"day":2090,"pH":7.3},{"day":2099,"pH":4.84},{"day":2109,"pH":5.35},{"day":2114,"pH":6.33},{"day":2124,"pH":5.42}]
},
"vconcat": [
{
  "width": 2503, "height": 559,
  "layer": [
    {"data": {"name": "rain"}, "mark": {"type": "bar", "color": "#808080", "size": 3.5},
     "encoding": {
       "x": {"field": "day", "type": "quantitative", "scale": {"domain": [0, 2130], "nice": false, "zero": false},
             "axis": {"orient": "bottom", "tickCount": 200, "values": [0,30,61,91,122,152,183,213,244,274,305,335,366,396,427,457,488,518,549,579,610,640,671,701,732,762,793,823,854,884,915,945,976,1006,1037,1067,1098,1128,1159,1189,1220,1250,1281,1311,1342,1372,1403,1433,1464,1494,1525,1555,1586,1616,1647,1677,1708,1738,1769,1799,1830,1860,1891,1921,1952,1982,2013,2043,2074,2104],
                      "labelExpr": "'H' + (year(datetime(2003, 4, 1 + datum.value)) - 1988) + '.' + timeFormat(datetime(2003, 4, 1 + datum.value), '%m.%d')",
                      "labelAngle": 270, "labelFontSize": 20, "labelPadding": 18, "labelOverlap": false, "labelFlush": false, "labelBound": false,
                      "grid": true, "gridDash": [8, 6], "gridColor": "#000000", "gridWidth": 1,
                      "domain": true, "domainColor": "#000000", "domainWidth": 2, "ticks": false, "title": null}},
       "y": {"field": "mm", "type": "quantitative", "scale": {"domain": [0, 200], "nice": false},
             "axis": {"orient": "right", "values": [0,20,40,60,80,100,120,140,160,180,200], "title": null, "labelPadding": 23, "labelOffset": 3, "labelColor": "#000000", "grid": false, "ticks": false, "domain": false}}
     }},
    {"data": {"name": "flowE"}, "mark": {"type": "line", "color": "#0000ff", "strokeWidth": 2, "invalid": "break-paths-show-domains"},
     "encoding": {
       "x": {"field": "day", "type": "quantitative"},
       "y": {"field": "flow", "type": "quantitative", "scale": {"domain": [0, 2000], "nice": false},
             "axis": {"orient": "left", "offset": 60, "values": [0,200,400,600,800,1000,1200,1400,1600,1800,2000], "format": "d", "labelColor": "#0000ff", "labelPadding": 7, "labelOffset": 6, "grid": false, "ticks": false, "domain": false,
                      "title": "浸出量", "titleColor": "#0000ff", "titleAngle": 0, "titleAlign": "center", "titleBaseline": "alphabetic", "titleX": -46, "titleY": -11, "titleFontSize": 25, "titleFontWeight": "normal", "titleFont": "Noto Sans CJK JP"}}
     }},
    {"layer": [
      {"data": {"values": [{}]}, "mark": {"type": "rule", "color": "#000000", "strokeWidth": 1.5},
       "encoding": {"x": {"datum": 630, "type": "quantitative"}, "y": {"datum": 9.34, "type": "quantitative"}, "y2": {"datum": -3.77}}},
      {"data": {"values": [{}]}, "mark": {"type": "rule", "color": "#000000", "strokeWidth": 1.5},
       "encoding": {"x": {"datum": 630, "type": "quantitative"}, "x2": {"datum": 664}, "y": {"datum": 9.34, "type": "quantitative"}}},
      {"data": {"values": [{}]}, "mark": {"type": "point", "shape": "triangle-right", "filled": true, "color": "#000000", "size": 190, "opacity": 1},
       "encoding": {"x": {"datum": 669, "type": "quantitative"}, "y": {"datum": 9.34, "type": "quantitative"}}},
      {"data": {"values": [{}]}, "mark": {"type": "text", "text": "覆土後", "align": "left", "baseline": "middle", "fontSize": 27, "font": "Noto Sans CJK JP", "color": "#333333"},
       "encoding": {"x": {"datum": 691, "type": "quantitative"}, "y": {"datum": 9.34, "type": "quantitative"}}},
      {"data": {"values": [{}]}, "mark": {"type": "text", "text": "コルゲート東", "align": "left", "baseline": "alphabetic", "fontSize": 30, "font": "Noto Sans CJK JP", "color": "#000000"},
       "encoding": {"x": {"datum": 210, "type": "quantitative"}, "y": {"datum": 10.07, "type": "quantitative"}}},
      {"data": {"name": "phE"}, "mark": {"type": "point", "filled": true, "size": 655, "strokeWidth": 1.5, "opacity": 1},
       "encoding": {
         "x": {"field": "day", "type": "quantitative"},
         "y": {"field": "pH", "type": "quantitative", "scale": {"domain": [0, 10], "nice": false},
               "axis": {"orient": "left", "values": [0,1,2,3,4,5,6,7,8,9,10], "labelColor": "#ff0000", "labelPadding": 23, "labelOffset": 3, "grid": true, "gridColor": "#555555", "gridWidth": 1.2, "ticks": false, "domain": true, "domainColor": "#000000", "domainWidth": 2,
                        "title": "pH", "titleColor": "#ff0000", "titleAngle": 0, "titleAlign": "center", "titleBaseline": "alphabetic", "titleX": -42, "titleY": -13, "titleFontSize": 22, "titleFontWeight": "normal", "titleFont": "Liberation Sans"}},
         "fill": {"datum": "コルゲート東pH(ラボ)", "type": "nominal",
                  "scale": {"domain": ["日降水量(mm)", "コルゲート東pH(ラボ)", "浸出量(L/min)"], "range": ["#808080", "#ff0000", "#0000ff"]},
                  "legend": {"orient": "none", "legendX": 1142, "legendY": -28, "direction": "horizontal", "title": null,
                             "fillColor": "#ffffff", "strokeColor": "#000000", "padding": 10, "labelFont": "Noto Sans CJK JP", "labelFontSize": 24, "labelColor": "#000000", "labelOffset": 36, "columnPadding": 46, "symbolSize": 576, "symbolStrokeWidth": 1.8, "symbolStrokeColor": "#000000", "labelLimit": 400}},
         "stroke": {"datum": "コルゲート東pH(ラボ)", "type": "nominal",
                  "scale": {"domain": ["日降水量(mm)", "コルゲート東pH(ラボ)", "浸出量(L/min)"], "range": ["#808080", "#000000", "#0000ff"]}},
         "shape": {"datum": "コルゲート東pH(ラボ)", "type": "nominal",
                  "scale": {"domain": ["日降水量(mm)", "コルゲート東pH(ラボ)", "浸出量(L/min)"], "range": ["M-1,-0.67H3V0.67H-1Z", "M0.625,0A0.625,0.625,0,1,1,-0.625,0A0.625,0.625,0,1,1,0.625,0Z", "M-1,0H3.33"]}}
       }}
    ]}
  ],
  "resolve": {"scale": {"y": "independent"}}
},
{
  "width": 2503, "height": 557,
  "layer": [
    {"data": {"name": "rain"}, "mark": {"type": "bar", "color": "#808080", "size": 3.5},
     "encoding": {
       "x": {"field": "day", "type": "quantitative", "scale": {"domain": [0, 2130], "nice": false, "zero": false},
             "axis": {"orient": "bottom", "tickCount": 200, "values": [0,30,61,91,122,152,183,213,244,274,305,335,366,396,427,457,488,518,549,579,610,640,671,701,732,762,793,823,854,884,915,945,976,1006,1037,1067,1098,1128,1159,1189,1220,1250,1281,1311,1342,1372,1403,1433,1464,1494,1525,1555,1586,1616,1647,1677,1708,1738,1769,1799,1830,1860,1891,1921,1952,1982,2013,2043,2074,2104],
                      "labelExpr": "'H' + (year(datetime(2003, 4, 1 + datum.value)) - 1988) + '.' + timeFormat(datetime(2003, 4, 1 + datum.value), '%m.%d')",
                      "labelAngle": 270, "labelFontSize": 20, "labelPadding": 18, "labelOverlap": false, "labelFlush": false, "labelBound": false,
                      "grid": true, "gridDash": [8, 6], "gridColor": "#000000", "gridWidth": 1,
                      "domain": true, "domainColor": "#000000", "domainWidth": 2, "ticks": false, "title": null}},
       "y": {"field": "mm", "type": "quantitative", "scale": {"domain": [0, 200], "nice": false},
             "axis": {"orient": "right", "values": [0,20,40,60,80,100,120,140,160,180,200], "title": null, "labelPadding": 23, "labelOffset": 3, "labelColor": "#000000", "grid": false, "ticks": false, "domain": false}}
     }},
    {"data": {"name": "flowW"}, "mark": {"type": "line", "color": "#0000ff", "strokeWidth": 2, "invalid": "break-paths-show-domains"},
     "encoding": {
       "x": {"field": "day", "type": "quantitative"},
       "y": {"field": "flow", "type": "quantitative", "scale": {"domain": [0, 2000], "nice": false},
             "axis": {"orient": "left", "offset": 60, "values": [0,200,400,600,800,1000,1200,1400,1600,1800,2000], "format": "d", "labelColor": "#0000ff", "labelPadding": 7, "labelOffset": 6, "grid": false, "ticks": false, "domain": false,
                      "title": "浸出量", "titleColor": "#0000ff", "titleAngle": 0, "titleAlign": "center", "titleBaseline": "alphabetic", "titleX": -46, "titleY": -11, "titleFontSize": 25, "titleFontWeight": "normal", "titleFont": "Noto Sans CJK JP"}}
     }},
    {"layer": [
      {"data": {"values": [{}]}, "mark": {"type": "rule", "color": "#000000", "strokeWidth": 1.5},
       "encoding": {"x": {"datum": 630, "type": "quantitative"}, "y": {"datum": 10, "type": "quantitative"}, "y2": {"datum": -0.4}}},
      {"data": {"values": [{}]}, "mark": {"type": "text", "text": "コルゲート西", "align": "left", "baseline": "alphabetic", "fontSize": 30, "font": "Noto Sans CJK JP", "color": "#000000"},
       "encoding": {"x": {"datum": 208, "type": "quantitative"}, "y": {"datum": 10.18, "type": "quantitative"}}},
      {"data": {"name": "phW"}, "mark": {"type": "point", "filled": true, "size": 655, "strokeWidth": 1.5, "opacity": 1},
       "encoding": {
         "x": {"field": "day", "type": "quantitative"},
         "y": {"field": "pH", "type": "quantitative", "scale": {"domain": [0, 10], "nice": false},
               "axis": {"orient": "left", "values": [0,1,2,3,4,5,6,7,8,9,10], "labelColor": "#ff0000", "labelPadding": 23, "labelOffset": 3, "grid": true, "gridColor": "#555555", "gridWidth": 1.2, "ticks": false, "domain": true, "domainColor": "#000000", "domainWidth": 2,
                        "title": "pH", "titleColor": "#ff0000", "titleAngle": 0, "titleAlign": "center", "titleBaseline": "alphabetic", "titleX": -42, "titleY": -15, "titleFontSize": 22, "titleFontWeight": "normal", "titleFont": "Liberation Sans"}},
         "fill": {"datum": "コルゲート西pH(ラボ)", "type": "nominal",
                  "scale": {"domain": ["日降水量(mm)", "コルゲート西pH(ラボ)", "浸出量(L/min)"], "range": ["#808080", "#ff0000", "#0000ff"]},
                  "legend": {"orient": "none", "legendX": 1138, "legendY": -40, "direction": "horizontal", "title": null,
                             "fillColor": "#ffffff", "strokeColor": "#000000", "padding": 10, "labelFont": "Noto Sans CJK JP", "labelFontSize": 24, "labelColor": "#000000", "labelOffset": 36, "columnPadding": 46, "symbolSize": 576, "symbolStrokeWidth": 1.8, "symbolStrokeColor": "#000000", "labelLimit": 400}},
         "stroke": {"datum": "コルゲート西pH(ラボ)", "type": "nominal",
                  "scale": {"domain": ["日降水量(mm)", "コルゲート西pH(ラボ)", "浸出量(L/min)"], "range": ["#808080", "#000000", "#0000ff"]}},
         "shape": {"datum": "コルゲート西pH(ラボ)", "type": "nominal",
                  "scale": {"domain": ["日降水量(mm)", "コルゲート西pH(ラボ)", "浸出量(L/min)"], "range": ["M-1,-0.67H3V0.67H-1Z", "M0.625,0A0.625,0.625,0,1,1,-0.625,0A0.625,0.625,0,1,1,0.625,0Z", "M-1,0H3.33"]}}
       }}
    ]}
  ],
  "resolve": {"scale": {"y": "independent"}}
}
],
"resolve": {"scale": {"x": "independent", "y": "independent", "fill": "independent", "stroke": "independent", "shape": "independent"}, "legend": {"fill": "independent", "stroke": "independent", "shape": "independent"}}
}
